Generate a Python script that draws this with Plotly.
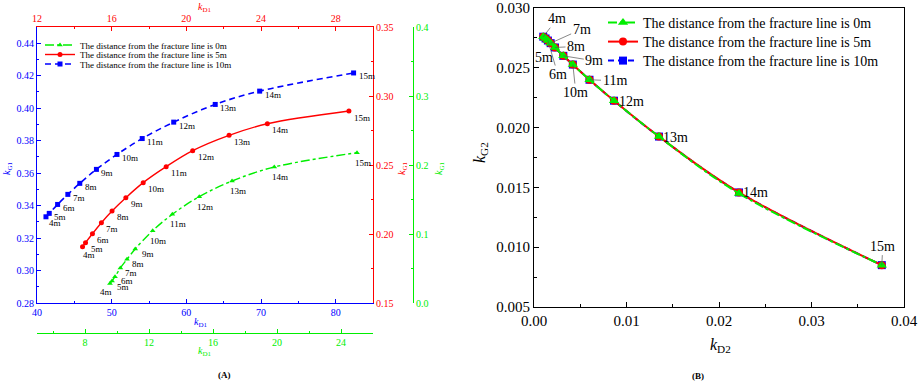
import plotly.graph_objects as go

W, H = 920, 382
FONT = "Liberation Serif"
BLUE, RED, GREEN = "#0000ff", "#ff0000", "#00ee00"

# ---------------- data: chart (A) ----------------
labels = ["4m", "5m", "6m", "7m", "8m", "9m", "10m", "11m", "12m", "13m", "14m", "15m"]
series_names = ["The distance from the fracture line is 0m",
                "The distance from the fracture line is 5m",
                "The distance from the fracture line is 10m"]

# 10 m series (blue, bottom kD1 / left kG1)
a_kd1_10m = [41.2, 41.64, 42.76, 44.13, 45.73, 47.96, 50.71, 54.09, 58.31, 63.87, 69.82, 82.4]
a_kg1_10m = [0.3331, 0.3352, 0.3407, 0.3469, 0.3537, 0.3623, 0.3715, 0.3813, 0.3914, 0.4023, 0.4105, 0.4217]
# 5 m series (red, top kD1 / right kG1)
a_kd1_5m = [14.44, 14.60, 14.97, 15.45, 16.02, 16.76, 17.69, 18.92, 20.34, 22.29, 24.34, 28.71]
a_kg1_5m = [0.1908, 0.1937, 0.2002, 0.2082, 0.2167, 0.2263, 0.2372, 0.2488, 0.2604, 0.2715, 0.2799, 0.2891]
# 0 m series (green, lower kD1 / outer right kG1)
a_kd1_0m = [9.56, 9.69, 9.875, 10.21, 10.625, 11.14, 12.23, 13.46, 15.14, 17.19, 19.83, 25.0]
a_kg1_0m = [0.0283, 0.0319, 0.0381, 0.0507, 0.0633, 0.0783, 0.1048, 0.1286, 0.1541, 0.1768, 0.1971, 0.2178]

# ---------------- data: chart (B) ----------------
b_kd2_0m = [0.00100, 0.00125, 0.00150, 0.00180, 0.00227, 0.00317, 0.00420, 0.00600, 0.00865, 0.01351, 0.02216, 0.03760]
b_kg2_0m = [0.02760, 0.02745, 0.02728, 0.02706, 0.02670, 0.02600, 0.02527, 0.02400, 0.02225, 0.01925, 0.01450, 0.00850]
b_kd2_5m = [0.00100, 0.00125, 0.00150, 0.00180, 0.00227, 0.00317, 0.00420, 0.00600, 0.00865, 0.01351, 0.02216, 0.03760]
b_kg2_5m = [0.02760, 0.02745, 0.02728, 0.02706, 0.02670, 0.02600, 0.02527, 0.02400, 0.02225, 0.01925, 0.01458, 0.00850]
b_kd2_10m = [0.00100, 0.00125, 0.00150, 0.00180, 0.00227, 0.00317, 0.00420, 0.00600, 0.00865, 0.01351, 0.02216, 0.03760]
b_kg2_10m = [0.02760, 0.02745, 0.02728, 0.02706, 0.02670, 0.02600, 0.02527, 0.02400, 0.02225, 0.01925, 0.01458, 0.00850]

# ---------------- layout helpers ----------------
def px(x):
    return x / W

def py(y):
    return 1 - y / H

A_X0, A_X1, A_Y0, A_Y1 = 37, 373, 27, 303
B_X0, B_X1, B_Y0, B_Y1 = 534, 904, 8, 307

fig = go.Figure()

# ---- chart A traces ----
fig.add_trace(go.Scatter(x=a_kd1_10m, y=a_kg1_10m, xaxis="x", yaxis="y", mode="lines+markers",
                         line=dict(color=BLUE, width=1.6, dash="6px,4px", shape="spline"),
                         marker=dict(symbol="square", size=5, color=BLUE),
                         name=series_names[2], legend="legend3"))
fig.add_trace(go.Scatter(x=a_kd1_5m, y=a_kg1_5m, xaxis="x2", yaxis="y2", mode="lines+markers",
                         line=dict(color=RED, width=1.4, shape="spline"),
                         marker=dict(symbol="circle", size=5, color=RED),
                         name=series_names[1], legend="legend2"))
fig.add_trace(go.Scatter(x=a_kd1_0m, y=a_kg1_0m, xaxis="x3", yaxis="y3", mode="lines+markers",
                         line=dict(color=GREEN, width=1.4, dash="dashdot", shape="spline"),
                         marker=dict(symbol="triangle-up", size=5, color=GREEN),
                         name=series_names[0], legend="legend"))

# ---- chart B traces ----
fig.add_trace(go.Scatter(x=b_kd2_10m, y=b_kg2_10m, xaxis="x4", yaxis="y4", mode="lines+markers",
                         line=dict(color=BLUE, width=2, dash="6px,4px", shape="spline"),
                         marker=dict(symbol="square", size=8, color=BLUE),
                         name=series_names[2], legend="legend6"))
fig.add_trace(go.Scatter(x=b_kd2_5m, y=b_kg2_5m, xaxis="x4", yaxis="y4", mode="lines+markers",
                         line=dict(color=RED, width=2, shape="spline"),
                         marker=dict(symbol="circle", size=8, color=RED),
                         name=series_names[1], legend="legend5"))
fig.add_trace(go.Scatter(x=b_kd2_0m, y=b_kg2_0m, xaxis="x4", yaxis="y4", mode="lines+markers",
                         line=dict(color=GREEN, width=2, dash="dashdot", shape="spline"),
                         marker=dict(symbol="triangle-up", size=9, color=GREEN),
                         name=series_names[0], legend="legend4"))

# ---- axes ----
def ax_style(color, size, **kw):
    d = dict(showgrid=False, zeroline=False, showline=True, linecolor=color, linewidth=1,
             ticks="inside", ticklen=4, tickcolor=color, tickwidth=1,
             tickfont=dict(family=FONT, size=size, color=color), automargin=False)
    d.update(kw)
    return d

adom_x = [px(A_X0), px(A_X1)]
adom_y = [py(A_Y1), py(A_Y0)]

fig.update_layout(
    xaxis=ax_style(BLUE, 10, domain=adom_x, anchor="y", range=[40, 85], dtick=10, tick0=0,
                   minor=dict(ticks="inside", ticklen=2, dtick=5, tickcolor=BLUE)),
    yaxis=ax_style(BLUE, 10, domain=adom_y, anchor="x", range=[0.28, 0.45], dtick=0.02, tick0=0,
                   tickformat=".2f",
                   minor=dict(ticks="inside", ticklen=2, dtick=0.01, tickcolor=BLUE)),
    xaxis2=ax_style(RED, 10, overlaying="x", side="top", anchor="y", range=[12, 30], dtick=4, tick0=0,
                    minor=dict(ticks="inside", ticklen=2, dtick=2, tickcolor=RED)),
    yaxis2=ax_style(RED, 10, overlaying="y", side="right", anchor="x", range=[0.15, 0.35], dtick=0.05,
                    tick0=0, tickformat=".2f",
                    minor=dict(ticks="inside", ticklen=2, dtick=0.025, tickcolor=RED)),
    xaxis3=ax_style(GREEN, 10, overlaying="x", side="bottom", anchor="free", position=py(333),
                    range=[5, 26], dtick=4, tick0=0,
                    minor=dict(ticks="inside", ticklen=2, dtick=2, tickcolor=GREEN)),
    yaxis3=ax_style(GREEN, 10, overlaying="y", side="right", anchor="free", position=px(413),
                    range=[0, 0.4], dtick=0.1, tick0=0, tickformat=".1f",
                    minor=dict(ticks="inside", ticklen=2, dtick=0.05, tickcolor=GREEN)),
    xaxis4=ax_style("#000000", 15, domain=[px(B_X0), px(B_X1)], anchor="y4", range=[0, 0.04],
                    dtick=0.01, tick0=0, tickformat=".2f", mirror=True, ticklen=5,
                    minor=dict(ticks="inside", ticklen=3, dtick=0.005, tickcolor="#000000")),
    yaxis4=ax_style("#000000", 15, domain=[py(B_Y1), py(B_Y0)], anchor="x4", range=[0.005, 0.030],
                    dtick=0.005, tick0=0, tickformat=".3f", mirror=True, ticklen=5,
                    minor=dict(ticks="inside", ticklen=3, dtick=0.0025, tickcolor="#000000")),
)

# ---- legends (one per entry so row spacing can match) ----
def leg(x, y, size):
    return dict(x=px(x), y=py(y), xanchor="left", yanchor="middle", bgcolor="rgba(0,0,0,0)",
                borderwidth=0, font=dict(family=FONT, size=size, color="#000000"),
                tracegroupgap=0, visible=True)

fig.update_layout(
    showlegend=True,
    legend=leg(40, 45, 9), legend2=leg(40, 54.5, 9), legend3=leg(40, 64, 9),
    legend4=leg(603, 23, 14), legend5=leg(603, 42, 14), legend6=leg(603, 61, 14),
)

ann = []

# point labels chart A
def add_labels(xs, ys, xr, yr, offsets):
    for i, lab in enumerate(labels):
        dx, dy = offsets[i]
        ann.append(dict(x=xs[i], y=ys[i], xref=xr, yref=yr, text=lab, showarrow=False,
                        xanchor="left", yanchor="middle", xshift=dx, yshift=-dy,
                        font=dict(family=FONT, size=9, color="#000000")))

off_blue = [(1, 6)] + [(3, 3.5)] * 11
off_red = [(-2, 8.5)] + [(3, 6.5)] * 11
off_green = [(-12, 8.5), (3, 6.5), (4, 4.5), (3, 4.5), (3, 5), (5, 5)] + [(-4.5, 10)] * 6
add_labels(a_kd1_10m, a_kg1_10m, "x", "y", off_blue)
add_labels(a_kd1_5m, a_kg1_5m, "x2", "y2", off_red)
add_labels(a_kd1_0m, a_kg1_0m, "x3", "y3", off_green)

# point labels chart B: (dx, dy, leader)
b_offsets = [(14, -18, True), (-2, 19, False), (10, 34, True), (31, -14, True), (21, -1, True),
             (31, 5, True), (3, 28, True), (25, 1, True), (17, 1, False), (17, 1, False),
             (17, 0, False), (1, -19, True)]
for i, lab in enumerate(labels):
    dx, dy, lead = b_offsets[i]
    if lead:
        ann.append(dict(x=b_kd2_5m[i], y=b_kg2_5m[i], xref="x4", yref="y4", text=lab,
                        showarrow=True, arrowhead=0, arrowwidth=0.7, arrowcolor="#555555",
                        ax=dx, ay=dy, font=dict(family=FONT, size=14, color="#000000")))
    else:
        ann.append(dict(x=b_kd2_5m[i], y=b_kg2_5m[i], xref="x4", yref="y4", text=lab,
                        showarrow=False, xshift=dx, yshift=-dy,
                        font=dict(family=FONT, size=14, color="#000000")))

# axis titles and panel labels
def title(text, x, y, color, size, angle=0):
    ann.append(dict(x=px(x), y=py(y), xref="paper", yref="paper", text=text, showarrow=False,
                    xanchor="center", yanchor="middle", textangle=angle,
                    font=dict(family=FONT, size=size, color=color)))

title("<i>k</i><sub>D1</sub>", 205, 7, RED, 10)
title("<i>k</i><sub>D1</sub>", 201, 322, BLUE, 10)
title("<i>k</i><sub>D1</sub>", 205, 351, GREEN, 10)
title("<i>k</i><sub>G1</sub>", 7, 168, BLUE, 10, -90)
title("<i>k</i><sub>G1</sub>", 402, 168, RED, 10, -90)
title("<i>k</i><sub>G1</sub>", 439, 168, GREEN, 10, -90)
title("<b>(A)</b>", 224, 375, "#000000", 9)
title("<i>k</i><sub>D2</sub>", 720, 345, "#000000", 16)
title("<i>k</i><sub>G2</sub>", 480, 153, "#000000", 16, -90)
title("<b>(B)</b>", 698, 376, "#000000", 9)

fig.update_layout(annotations=ann, width=W, height=H, autosize=False,
                  margin=dict(l=0, r=0, t=0, b=0),
                  paper_bgcolor="#ffffff", plot_bgcolor="rgba(0,0,0,0)",
                  font=dict(family=FONT))

fig.write_html("out.html", config={"displayModeBar": False},
               post_script="document.body.style.margin='0';document.body.style.overflow='hidden';")
